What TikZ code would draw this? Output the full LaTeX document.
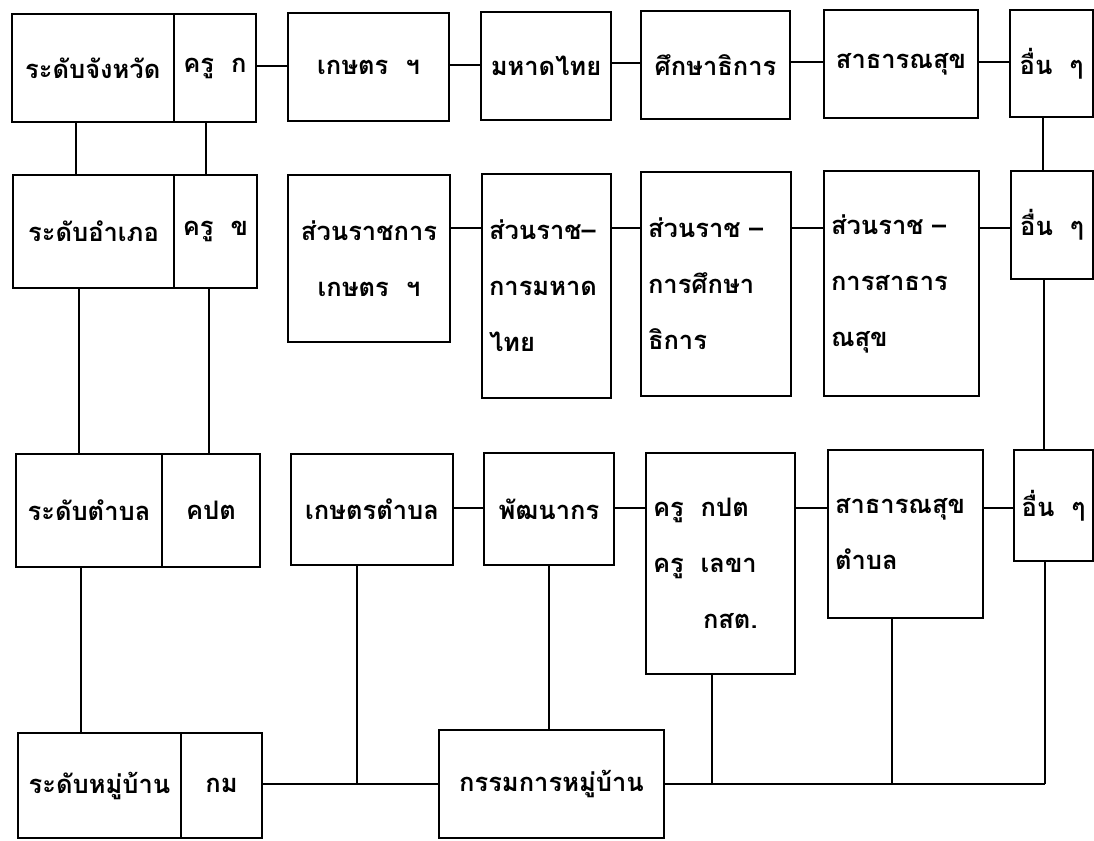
\documentclass[tikz,border=0pt]{standalone}
\usepackage{fontspec}
\newfontfamily\thaifont[Script=Thai]{Loma}
\tikzset{
  box/.style={draw, line width=2pt, rectangle, inner sep=0pt, anchor=north west,
    font=\thaifont\bfseries\fontsize{25.5}{56}\selectfont, align=center},
  lbox/.style={box, align=left, inner xsep=7pt},
  link/.style={line width=2pt},
}
\begin{document}
\begin{tikzpicture}[x=1pt,y=-1pt]
\useasboundingbox (0,0) rectangle (1094,840);
% row 1
\node[box, minimum width=162.5pt, minimum height=108pt] (L1a) at (10.5,13) {ระดับจังหวัด};
\node[box, minimum width=82pt, minimum height=108pt] (L1b) at (173,13) {ครู\ \ ก};
\node[box, minimum width=161pt, minimum height=108pt] (K1) at (287,12) {เกษตร\ \ ฯ};
\node[box, minimum width=130pt, minimum height=108pt] (M1) at (480,11) {มหาดไทย};
\node[box, minimum width=149pt, minimum height=108pt] (S1) at (640,10) {ศึกษาธิการ};
\node[box, minimum width=154pt, minimum height=108pt] (P1) at (823,9) {สาธารณสุข};
\node[box, minimum width=83pt, minimum height=107pt] (O1) at (1009,9) {อื่น\ \ ๆ};
% row 2
\node[box, minimum width=161pt, minimum height=113pt] (L2a) at (12,174) {ระดับอำเภอ};
\node[box, minimum width=83pt, minimum height=113pt] (L2b) at (173,174) {ครู\ \ ข};
\node[box, minimum width=162pt, minimum height=167pt] (K2) at (287,174) {ส่วนราชการ\\เกษตร\ \ ฯ};
\node[lbox, text width=115pt, minimum height=224pt] (M2) at (481,173) {ส่วนราช–\\การมหาด\\ไทย};
\node[lbox, text width=136pt, minimum height=224pt] (S2) at (640,171) {ส่วนราช\ –\\การศึกษา\\ธิการ};
\node[lbox, text width=141pt, minimum height=225pt] (P2) at (823,170) {ส่วนราช\ –\\การสาธาร\\ณสุข};
\node[box, minimum width=82pt, minimum height=108pt] (O2) at (1010,170) {อื่น\ \ ๆ};
% row 3
\node[box, minimum width=146pt, minimum height=113pt] (L3a) at (15,453) {ระดับตำบล};
\node[box, minimum width=98pt, minimum height=113pt] (L3b) at (161,453) {คปต};
\node[box, minimum width=162pt, minimum height=111pt] (K3) at (290,453) {เกษตรตำบล};
\node[box, minimum width=130pt, minimum height=112pt] (M3) at (483,452) {พัฒนากร};
\node[lbox, text width=135pt, minimum height=221pt] (S3) at (645,452) {ครู\ \ กปต\\ครู\ \ เลขา\\\hspace*{50pt}กสต.};
\node[lbox, text width=141pt, minimum height=168pt] (P3) at (827,449) {สาธารณสุข\\ตำบล};
\node[box, minimum width=79pt, minimum height=111pt] (O3) at (1013,449) {อื่น\ \ ๆ};
% row 4
\node[box, minimum width=163pt, minimum height=105pt] (L4a) at (17,732) {ระดับหมู่บ้าน};
\node[box, minimum width=81pt, minimum height=105pt] (L4b) at (180,732) {กม};
\node[box, minimum width=225pt, minimum height=108pt] (G) at (438,729) {กรรมการหมู่บ้าน};
% junctions
\coordinate (jK) at (357,784);
\coordinate (jS) at (712,784);
\coordinate (jP) at (892,784);
\coordinate (jO) at (1045,784);
% row 1 links
\draw[link] (L1b.east |- 0,66) -- (K1.west |- 0,66);
\draw[link] (K1.east |- 0,65) -- (M1.west |- 0,65);
\draw[link] (M1.east |- 0,63) -- (S1.west |- 0,63);
\draw[link] (S1.east |- 0,62) -- (P1.west |- 0,62);
\draw[link] (P1.east |- 0,62) -- (O1.west |- 0,62);
% row 2 links
\draw[link] (K2.east |- 0,228) -- (M2.west |- 0,228);
\draw[link] (M2.east |- 0,228) -- (S2.west |- 0,228);
\draw[link] (S2.east |- 0,228) -- (P2.west |- 0,228);
\draw[link] (P2.east |- 0,228) -- (O2.west |- 0,228);
% row 3 links
\draw[link] (K3.east |- 0,508) -- (M3.west |- 0,508);
\draw[link] (M3.east |- 0,508) -- (S3.west |- 0,508);
\draw[link] (S3.east |- 0,508) -- (P3.west |- 0,508);
\draw[link] (P3.east |- 0,508) -- (O3.west |- 0,508);
% vertical links
\draw[link] (L1a.south -| 76,0) -- (L2a.north -| 76,0);
\draw[link] (L1b.south -| 206,0) -- (L2b.north -| 206,0);
\draw[link] (L2a.south -| 79,0) -- (L3a.north -| 79,0);
\draw[link] (L2b.south -| 209,0) -- (L3b.north -| 209,0);
\draw[link] (L3a.south -| 81,0) -- (L4a.north -| 81,0);
\draw[link] (O1.south -| 1043,0) -- (O2.north -| 1043,0);
\draw[link] (O2.south -| 1044,0) -- (O3.north -| 1044,0);
% bottom links
\draw[link] (L4b.east |- 0,784) -- (G.west |- 0,784);
\draw[link] (K3.south -| jK) -- (jK);
\draw[link] (M3.south -| 549,0) -- (G.north -| 549,0);
\draw[link] (G.east |- jO) -- (jO);
\draw[link] (S3.south -| jS) -- (jS);
\draw[link] (P3.south -| jP) -- (jP);
\draw[link] (O3.south -| jO) -- (jO);
\end{tikzpicture}
\end{document}
